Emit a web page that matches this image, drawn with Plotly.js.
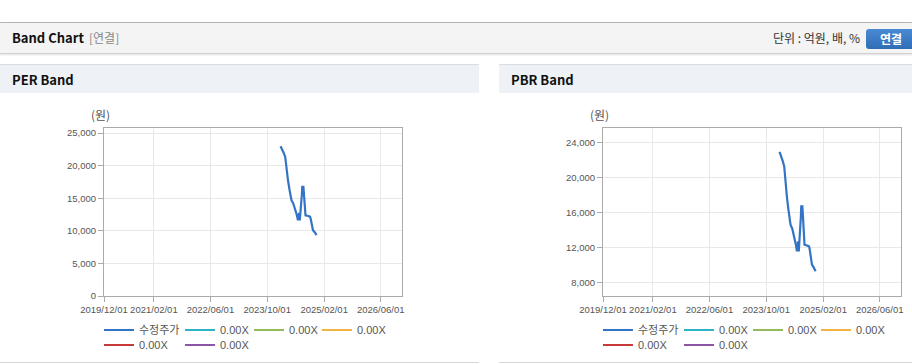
<!DOCTYPE html>
<html>
<head>
<meta charset="utf-8">
<script src="https://cdn.plot.ly/plotly-3.0.1.min.js"></script>
<style>
  html, body { margin:0; padding:0; background:#fff; width:912px; height:364px; overflow:hidden; }
  body { position:relative; font-family: 'Noto Sans CJK KR', 'Noto Sans', sans-serif; }
  .topbar { position:absolute; left:0; top:22px; width:912px; height:30px; background:#f4f4f4;
            border-top:1px solid #b4b4b4; border-bottom:1px solid #d0d0d0; box-shadow:0 1px 2px rgba(0,0,0,0.12); }
  .topbar .title { position:absolute; left:12px; top:0; line-height:30px; font-size:13px; font-weight:bold; color:#111; }
  .topbar .sub { position:absolute; left:89px; top:0; line-height:30px; font-size:12px; color:#888; }
  .topbar .unit { position:absolute; right:52px; top:0; line-height:30px; font-size:12px; color:#333; }
  .topbar .btn { position:absolute; left:866px; top:6px; width:50px; height:20px; border-radius:3px;
                 background:linear-gradient(#4a8ad4,#2f6db5); color:#fff; font-size:12px; font-weight:bold;
                 line-height:20px; text-indent:14px; }
  .panelhead { position:absolute; top:64px; height:28px; background:#eef2f7; border-top:1px solid #d9dde3; }
  .panelhead span { position:absolute; left:12px; top:0; line-height:29px; font-size:13px; font-weight:bold; color:#111; }
  .panelfoot { position:absolute; top:362px; height:0; border-top:1px solid #d6d6d6; z-index:5; }
  .chart { position:absolute; top:93px; height:300px; }
</style>
</head>
<body>
<div class="topbar">
  <span class="title">Band Chart</span>
  <span class="sub">[연결]</span>
  <span class="unit">단위 : 억원, 배, %</span>
  <div class="btn">연결</div>
</div>
<div class="panelhead" style="left:0;width:479px;"><span>PER Band</span></div>
<div class="panelhead" style="left:499px;width:413px;"><span>PBR Band</span></div>
<div class="chart" id="per" style="left:0;width:480px;"></div>
<div class="chart" id="pbr" style="left:499px;width:413px;"></div>
<div class="panelfoot" style="left:0;width:479px;"></div>
<div class="panelfoot" style="left:499px;width:413px;"></div>
<script>
// ---- data ----
const priceDates = ['2024-01-24','2024-02-08','2024-02-21','2024-03-04','2024-03-10','2024-03-16','2024-03-28',
  '2024-04-09','2024-04-18','2024-04-27','2024-05-12','2024-05-21','2024-06-03','2024-06-12','2024-06-21',
  '2024-07-01','2024-07-07','2024-07-12','2024-07-19','2024-07-25','2024-07-28','2024-08-07','2024-08-13',
  '2024-08-19','2024-08-25','2024-09-09','2024-10-03','2024-10-09','2024-10-19','2024-10-28','2024-11-12','2024-11-28'];
const priceValues = [22970,22470,21900,21330,20180,19240,17710,
  16380,15610,14660,14200,13710,13140,12380,11610,
  12750,11610,12400,14290,15610,16760,16760,15430,
  13900,12380,12300,12180,11800,10860,10090,9780,9350];
const priceName = '수정주가';
const bandNames = ['0.00X','0.00X','0.00X','0.00X','0.00X'];
const bandValues = [[null],[null],[null],[null],[null]];
const tickDates = ['2019-12-01','2021-02-01','2022-06-01','2023-10-01','2025-02-01','2026-06-01'];
const tickLabels = ['2019/12/01','2021/02/01','2022/06/01','2023/10/01','2025/02/01','2026/06/01'];
const xRange = ['2019-12-01','2026-12-01'];
const perYRange = [0, 25770];
const pbrYRange = [6510, 25710];
const yUnit = '(원)';

// ---- styles ----
const priceColor = '#3474c6';
const bandColors = ['#2fb3c4','#93ba5c','#f0b445','#c83a3a','#8d55a5'];
const tickFont = {family:"'Liberation Sans','Noto Sans CJK KR',sans-serif", size:9.5, color:'#555'};
const legendFont = {family:"'Liberation Sans','Noto Sans CJK KR',sans-serif", size:11, color:'#555'};
// legend slot positions (px offsets from plot-area left, px below plot bottom)
const legendSlots = [[0,34],[81,34],[150,34],[218,34],[0,49],[81,49]];
const figH = 300, marT = 35, marB = 97;

function makeTraces() {
  const t = [{
    type:'scatter', mode:'lines', name:priceName, x:priceDates, y:priceValues,
    line:{color:priceColor, width:2.2}, legend:'legend'
  }];
  bandNames.forEach((n,i) => t.push({
    type:'scatter', mode:'lines', name:n, x:[priceDates[0]], y:bandValues[i],
    line:{color:bandColors[i], width:2}, legend:'legend' + (i + 2)
  }));
  return t;
}

function makeLayout(w, ml, mr, yRange, dtick) {
  const plotW = w - ml - mr, plotH = figH - marT - marB;
  const lay = {
    width:w, height:figH,
    margin:{l:ml, r:mr, t:marT, b:marB, pad:0},
    paper_bgcolor:'rgba(0,0,0,0)', plot_bgcolor:'#fff',
    font:tickFont,
    xaxis:{type:'date', range:xRange, tickmode:'array', tickvals:tickDates, ticktext:tickLabels, tickangle:0,
      showgrid:true, gridcolor:'#e8e8e8', gridwidth:1, showline:true, mirror:true, linecolor:'#aaa', linewidth:1,
      ticks:'outside', ticklen:5, tickcolor:'#aaa', tickfont:tickFont, zeroline:false, fixedrange:true},
    yaxis:{range:yRange, dtick:dtick, tick0:0, tickformat:',d', showgrid:true, gridcolor:'#e8e8e8',
      showline:true, mirror:true, linecolor:'#aaa', linewidth:1, ticks:'outside', ticklen:5, tickcolor:'#aaa',
      tickfont:tickFont, zeroline:false, fixedrange:true},
    showlegend:true,
    annotations:[{xref:'paper', yref:'paper', x:-0.013, y:1.02, xanchor:'center', yanchor:'bottom',
      text:yUnit, showarrow:false, font:{family:"'Noto Sans CJK KR',sans-serif", size:12, color:'#555'}}]
  };
  legendSlots.forEach((s,i) => {
    const key = i === 0 ? 'legend' : 'legend' + (i + 1);
    lay[key] = {orientation:'h', xanchor:'left', yanchor:'middle',
      x:(s[0] - 5) / plotW, y:-s[1] / plotH, itemwidth:30, font:legendFont, bgcolor:'rgba(0,0,0,0)'};
  });
  return lay;
}

Plotly.newPlot('per', makeTraces(), makeLayout(480, 104, 78, perYRange, 5000), {staticPlot:true, displayModeBar:false});
Plotly.newPlot('pbr', makeTraces(), makeLayout(413, 104, 11, pbrYRange, 4000), {staticPlot:true, displayModeBar:false});
</script>
</body>
</html>
